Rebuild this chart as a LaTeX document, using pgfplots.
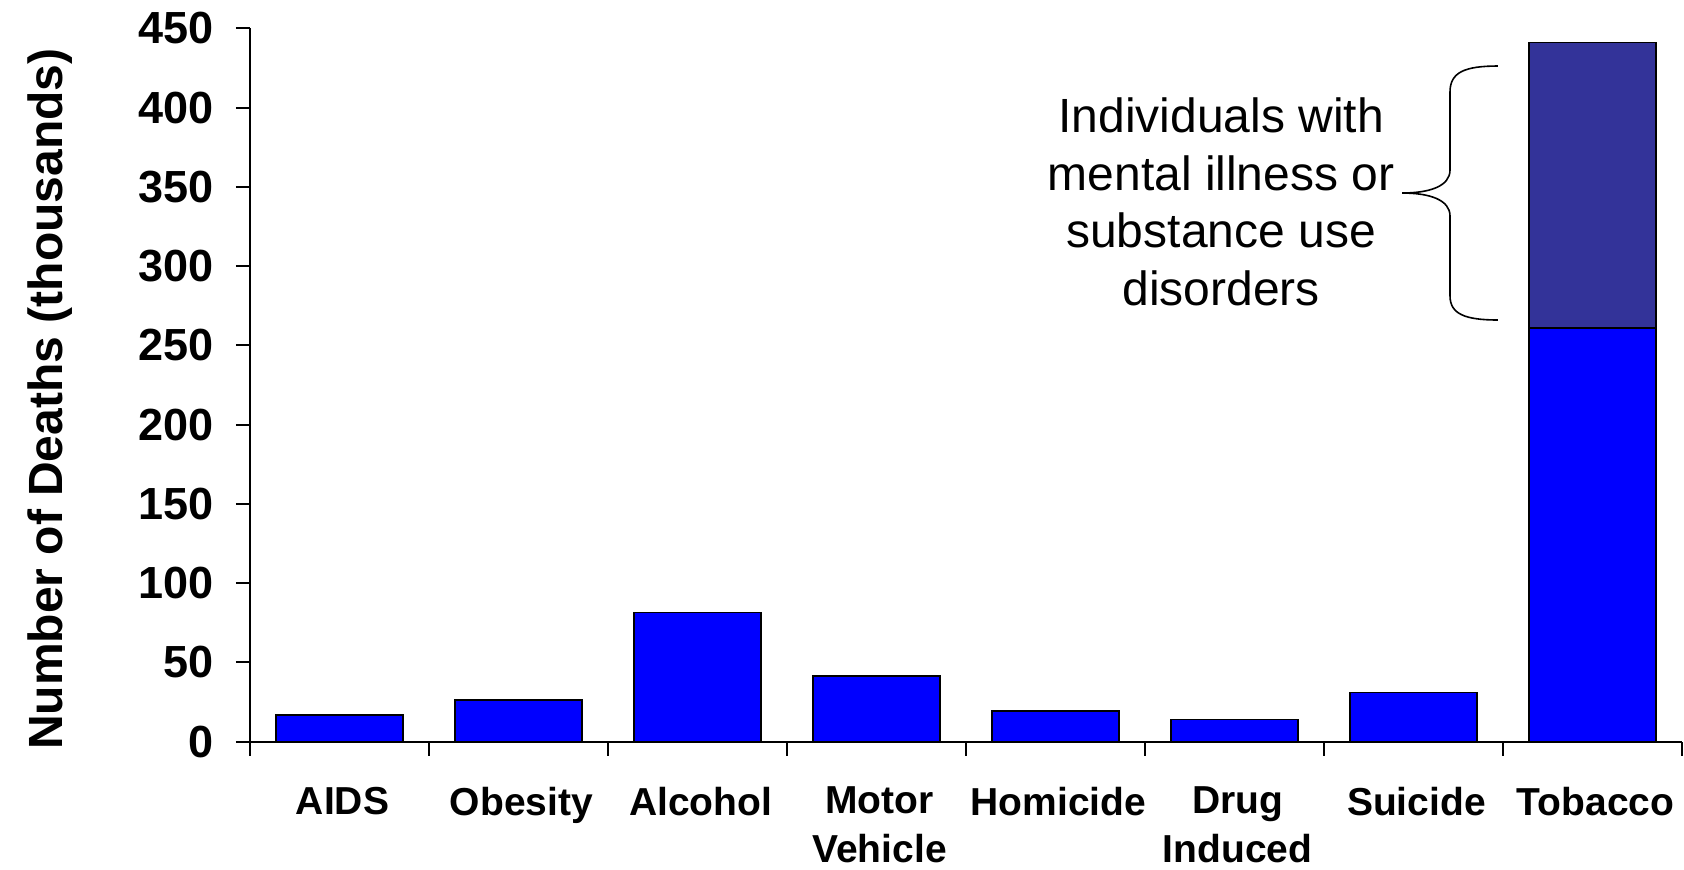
\documentclass[border=0pt]{standalone}
\usepackage{fontspec}
\setmainfont{Liberation Sans}
\usepackage{pgfplots}
\pgfplotsset{compat=1.18}

\definecolor{barblue}{RGB}{0,0,255}
\definecolor{mhblue}{RGB}{51,51,153}

\begin{document}
\begin{tikzpicture}
\path[use as bounding box] (-125pt,-63.65pt) rectangle (717pt,370.85pt);
\begin{axis}[
  at={(0,0)}, anchor=south west,
  width=716pt, height=356.7pt, scale only axis,
  xmin=-0.5, xmax=7.5, ymin=0, ymax=450,
  axis lines*=left,
  axis line style={line width=1pt, black},
  ybar stacked, bar width=0.71,
  xtick={-0.5,0.5,...,7.5}, xticklabels={},
  extra x ticks={0,1,2,3,4,5,6,7},
  extra x tick labels={AIDS,Obesity,Alcohol,{Motor\\Vehicle},Homicide,{Drug\\Induced},Suicide,Tobacco},
  extra x tick style={
    major tick length=0pt,
    xticklabel style={align=center, font=\fontsize{19.5}{24.5}\selectfont\bfseries, yshift=-19pt, xshift=1.5pt},
  },
  ytick={0,50,...,450},
  tick align=outside,
  major tick length=7pt,
  tick style={line width=1pt, black},
  yticklabel style={font=\fontsize{22.5}{26}\selectfont\bfseries, xshift=-7.5pt},
  /pgf/number format/assume math mode=true,
  ylabel={Number of Deaths (thousands)},
  ylabel style={font=\fontsize{24}{28}\selectfont\bfseries,
    at={(axis description cs:-0.1306,0.480)}, anchor=base},
  clip=false,
]
% all deaths per cause, thousands
\addplot[fill=barblue, draw=black, line width=0.9pt]
  coordinates {(0,17) (1,26.5) (2,81.5) (3,41.5) (4,19.5) (5,14) (6,31) (7,261)};
% tobacco deaths among people with mental illness or substance use disorders
\addplot[fill=mhblue, draw=black, line width=0.9pt]
  coordinates {(0,0) (1,0) (2,0) (3,0) (4,0) (5,0) (6,0) (7,180)};

% curly brace next to the upper tobacco segment
\draw[line width=0.8pt]
  (axis cs:6.472,426.2) .. controls (axis cs:6.288,426.2) and (axis cs:6.204,422.4) ..
  (axis cs:6.204,409.8) -- (axis cs:6.204,360.6)
  .. controls (axis cs:6.204,350.5) and (axis cs:6.092,346.1) .. (axis cs:5.936,346.1)
  .. controls (axis cs:6.092,346.1) and (axis cs:6.204,341.7) .. (axis cs:6.204,331.6)
  -- (axis cs:6.204,281.2)
  .. controls (axis cs:6.204,269.8) and (axis cs:6.288,266.0) .. (axis cs:6.472,266.0);
\node[align=center, font=\fontsize{24}{28.75}\selectfont]
  at (axis cs:4.925,340.5)
  {Individuals with\\mental illness or\\substance use\\disorders};
\end{axis}
\end{tikzpicture}
\end{document}
